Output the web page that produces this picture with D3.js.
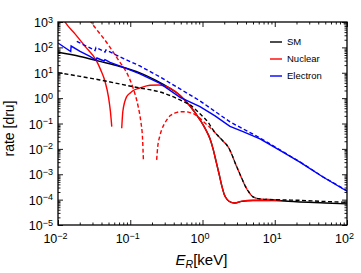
<!DOCTYPE html>
<html>
<head>
<meta charset="utf-8">
<script src="https://cdn.jsdelivr.net/npm/d3@7"></script>
<style>
  body { margin: 0; background: #fff; }
  svg { display: block; font-family: "Liberation Sans", Arial, sans-serif; }
</style>
</head>
<body>
<div id="chart"></div>
<script>
// tick values (decades)
const xTicks = [1e-2, 1e-1, 1e0, 1e1, 1e2];
const yTicks = [1e-5, 1e-4, 1e-3, 1e-2, 1e-1, 1e0, 1e1, 1e2, 1e3];

// [E_R in keV, rate in dru]
const smSolid = [[0.01, 64], [0.0202, 43.8], [0.0381, 27.9], [0.0721, 17.7], [0.136, 9.8], [0.22, 5.2],
  [0.355, 2.41], [0.489, 1.28], [0.671, 0.49], [0.923, 0.14], [1.1, 0.06], [1.27, 0.025], [1.4, 0.01],
  [1.55, 3e-3], [1.7, 1e-3], [1.85, 3.5e-4], [2.0, 1.6e-4], [2.2, 1.0e-4], [2.5, 7.8e-5], [2.8, 7.4e-5],
  [3.5, 8.5e-5], [5, 9.2e-5], [10, 9.2e-5], [20, 8.2e-5], [50, 7.4e-5], [100, 6.8e-5]];

const smDashed = [[0.01, 10.1], [0.0202, 7.2], [0.0381, 5.2], [0.0721, 3.6], [0.136, 2.5], [0.258, 1.75],
  [0.489, 0.85], [0.671, 0.54], [0.923, 0.24], [1.2, 0.11], [1.4, 0.056], [1.92, 0.0204], [2.25, 0.0123],
  [3.1, 1.5e-3], [4.27, 2.2e-4], [5, 1.29e-4], [6.25, 1.07e-4], [11.8, 9.8e-5], [22.3, 9.4e-5],
  [42, 8.6e-5], [100, 7.8e-5]];

// null marks the gap at the interference zero
const nuclearSolid = [[0.0115, 1500], [0.0125, 1000], [0.0172, 340], [0.0237, 110], [0.034, 30], [0.039, 13],
  [0.0447, 4.6], [0.05, 1.1], [0.053, 0.32], [0.0555, 0.075],
  null,
  [0.0762, 0.065], [0.079, 0.3], [0.0893, 1.15], [0.1, 1.6], [0.11, 2.0], [0.136, 2.5], [0.188, 3.2],
  [0.25, 3.3], [0.32, 2.85], [0.42, 1.85], [0.5, 1.2], [0.671, 0.49], [0.923, 0.14], [1.1, 0.06],
  [1.27, 0.025], [1.4, 0.01], [1.55, 3e-3], [1.7, 1e-3], [1.85, 3.5e-4], [2.0, 1.6e-4], [2.2, 1.0e-4],
  [2.5, 7.8e-5], [2.8, 7.4e-5], [3.5, 8.7e-5], [5, 9.4e-5], [12, 9.5e-5]];

const nuclearDashed = [[0.0245, 2000], [0.0263, 1440], [0.0496, 128], [0.0684, 32], [0.094, 7.5], [0.11, 2.4],
  [0.129, 0.45], [0.14, 0.12], [0.148, 0.025], [0.152, 0.0037],
  null,
  [0.232, 0.0037], [0.24, 0.012], [0.255, 0.03], [0.272, 0.056], [0.31, 0.12], [0.355, 0.2], [0.42, 0.26],
  [0.489, 0.29], [0.58, 0.29], [0.671, 0.27], [0.8, 0.22], [0.923, 0.16], [1.1, 0.1], [1.27, 0.07],
  [1.6, 0.035], [1.92, 0.0204], [2.25, 0.0123], [3.1, 1.5e-3], [4.27, 2.2e-4], [5, 1.29e-4],
  [6.25, 1.07e-4], [11.8, 9.8e-5]];

const electronSolid = [[0.01, 149], [0.015, 69], [0.0152, 113], [0.0202, 69], [0.0277, 43.8], [0.0336, 31],
  [0.0346, 38], [0.0433, 29], [0.0447, 33], [0.0525, 25.5], [0.0846, 15.5], [0.136, 9.0], [0.258, 3.8],
  [0.489, 1.07], [0.923, 0.46], [1.49, 0.2], [2.4, 0.077], [3.64, 0.048], [6.25, 0.025], [11.8, 8.8e-3],
  [22.3, 3.0e-3], [46.5, 7.8e-4], [100, 2.15e-4]];

const electronDashed = [[0.0182, 171], [0.026, 104], [0.0325, 75.5], [0.0336, 99], [0.0447, 66], [0.0461, 79],
  [0.0721, 42], [0.136, 18.5], [0.258, 6.84], [0.489, 2.3], [0.923, 0.776], [2.4, 0.116], [6.25, 0.0271],
  [11.8, 9.1e-3], [22.3, 3.08e-3], [46.5, 7.9e-4], [100, 2.22e-4]];

const legendLabels = ["SM", "Nuclear", "Electron"];
const legendColors = ["#000000", "#ff0000", "#0000ff"];

const margin = { top: 22, right: 14, bottom: 48, left: 58 },
    width = 361 - margin.left - margin.right,
    height = 273 - margin.top - margin.bottom;

const x = d3.scaleLog().domain([1e-2, 1e2]).range([0, width]);
const y = d3.scaleLog().domain([1e-5, 1e3]).range([height, 0]);

const minor = function (ticks) {
    const out = [];
    ticks.slice(0, -1).forEach(function (t) {
        for (let k = 2; k < 10; k++) out.push(t * k);
    });
    return out;
};

const svg = d3.select("#chart").append("svg")
    .attr("width", width + margin.left + margin.right)
    .attr("height", height + margin.top + margin.bottom)
    .append("g")
    .attr("transform", "translate(" + margin.left + "," + margin.top + ")");

svg.append("clipPath").attr("id", "clip")
    .append("rect").attr("width", width).attr("height", height);

// power-of-ten labels
function powLabel(sel) {
    sel.selectAll(".tick text").each(function (d) {
        const e = Math.round(Math.log10(d));
        const t = d3.select(this).text(null);
        t.append("tspan").text("10");
        t.append("tspan").attr("dy", "-0.5em").attr("font-size", "0.72em")
            .text(e < 0 ? "\u2212" + (-e) : String(e));
    });
}

function tickAxis(axis, transform, values, size, labels) {
    const g = svg.append("g").attr("transform", transform)
        .call(axis.tickValues(values).tickSize(-size).tickSizeOuter(0).tickPadding(labels ? 5 : 0)
            .tickFormat(labels ? null : ""));
    g.select(".domain").remove();
    g.selectAll(".tick line").attr("stroke", "#000").attr("stroke-width", 0.9);
    g.selectAll(".tick text").attr("font-size", 12.5).attr("fill", "#000");
    if (labels) g.call(powLabel);
    return g;
}

// major + minor ticks on all four sides, pointing inward
const xb = tickAxis(d3.axisBottom(x), "translate(0," + height + ")", xTicks, 5, true);
xb.selectAll(".tick text").attr("dy", "1.05em").attr("dx", "-3");
tickAxis(d3.axisBottom(x), "translate(0," + height + ")", minor(xTicks), 2.5, false);
tickAxis(d3.axisTop(x), "translate(0,0)", xTicks, 5, false);
tickAxis(d3.axisTop(x), "translate(0,0)", minor(xTicks), 2.5, false);
const yl = tickAxis(d3.axisLeft(y), "translate(0,0)", yTicks, 5, true);
yl.selectAll(".tick text").attr("dy", "0.36em");
tickAxis(d3.axisLeft(y), "translate(0,0)", minor(yTicks), 2.5, false);
tickAxis(d3.axisRight(y), "translate(" + width + ",0)", yTicks, 5, false);
tickAxis(d3.axisRight(y), "translate(" + width + ",0)", minor(yTicks), 2.5, false);

const line = d3.line()
    .defined(function (d) { return d !== null; })
    .x(function (d) { return x(d[0]); })
    .y(function (d) { return y(d[1]); })
    .curve(d3.curveMonotoneX);

const series = [
    { data: smSolid, color: legendColors[0], dash: null },
    { data: nuclearSolid, color: legendColors[1], dash: null },
    { data: nuclearDashed, color: legendColors[1], dash: "4,2.5" },
    { data: smDashed, color: legendColors[0], dash: "4,2.5" },
    { data: electronSolid, color: legendColors[2], dash: null, linear: true },
    { data: electronDashed, color: legendColors[2], dash: "4,2.5", linear: true }
];

const plot = svg.append("g").attr("clip-path", "url(#clip)");
series.forEach(function (s) {
    plot.append("path")
        .datum(s.data)
        .attr("fill", "none")
        .attr("stroke", s.color)
        .attr("stroke-width", 1.4)
        .attr("stroke-dasharray", s.dash)
        .attr("d", s.linear ? line.curve(d3.curveLinear)(s.data) : line.curve(d3.curveMonotoneX)(s.data));
});

// frame
svg.append("rect")
    .attr("width", width).attr("height", height)
    .attr("fill", "none").attr("stroke", "#000").attr("stroke-width", 1.3);

// legend
const legend = svg.append("g").attr("transform", "translate(212,20)");
legendLabels.forEach(function (name, i) {
    const row = legend.append("g").attr("transform", "translate(0," + (i * 17) + ")");
    row.append("line").attr("x1", 0).attr("x2", 12).attr("y1", 0).attr("y2", 0)
        .attr("stroke", legendColors[i]).attr("stroke-width", 1.4);
    row.append("text").attr("x", 17).attr("y", 3.4).attr("font-size", 9.5).text(name);
});

// axis titles
const xt = svg.append("text")
    .attr("x", width / 2 - 1).attr("y", height + 40)
    .attr("text-anchor", "middle").attr("font-size", 15);
xt.append("tspan").attr("font-style", "italic").text("E");
xt.append("tspan").attr("font-style", "italic").attr("font-size", 10.5).attr("dy", 3).text("R");
xt.append("tspan").attr("dy", -3).text("[keV]");

svg.append("text")
    .attr("transform", "translate(" + (-44) + "," + (height / 2 + 5) + ") rotate(-90)")
    .attr("text-anchor", "middle").attr("font-size", 14)
    .text("rate [dru]");
</script>
</body>
</html>
